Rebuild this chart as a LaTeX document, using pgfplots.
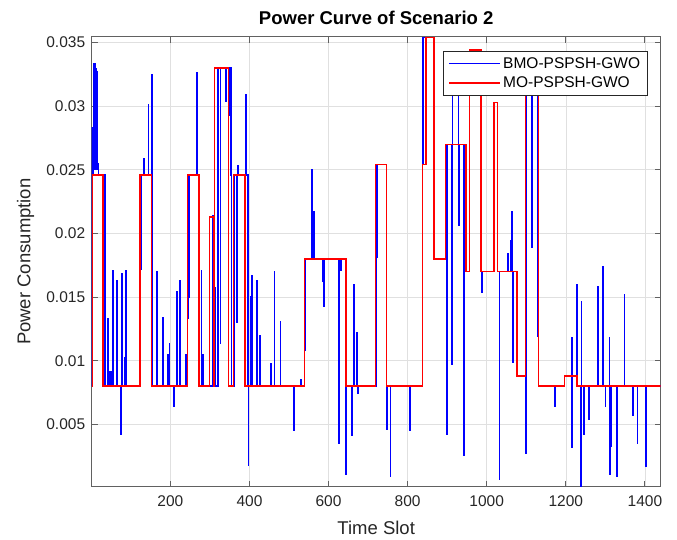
\documentclass[border=0pt]{standalone}
\usepackage{pgfplots}
\pgfplotsset{compat=1.18}
\usepackage{fontspec}
\setmainfont{Liberation Sans}
\definecolor{gridc}{rgb}{0.88,0.88,0.88}
\definecolor{axc}{rgb}{0.38,0.38,0.38}
\definecolor{txt}{rgb}{0.15,0.15,0.15}
\pgfplotstableread{
x y
1 0.008
2 0.0283
3 0.0246
6 0.0333
7 0.0250
8 0.0333
9 0.0255
10 0.0332
11 0.0250
12 0.0329
13 0.0255
14 0.0327
15 0.0252
16 0.0255
17 0.0250
18 0.0246
35 0.008
42 0.0133
43 0.008
47 0.0091
48 0.008
50 0.0091
51 0.008
54 0.0171
55 0.008
65 0.0163
66 0.008
74 0.0042
75 0.008
76 0.0156
77 0.008
78 0.0168
79 0.008
84 0.0102
85 0.008
87 0.0171
88 0.008
125 0.0172
126 0.0246
133 0.0259
134 0.0246
144 0.0301
145 0.0246
154 0.0325
155 0.008
165 0.0170
166 0.008
167 0.0170
168 0.008
181 0.0134
182 0.008
194 0.0105
195 0.008
197 0.0113
198 0.008
209 0.0064
210 0.008
217 0.0154
218 0.008
224 0.0163
225 0.008
239 0.0105
240 0.008
243 0.0133
245 0.0150
247 0.0246
266 0.0326
267 0.0246
272 0.008
278 0.0171
279 0.008
282 0.0105
283 0.008
307 0.0214
308 0.008
310 0.0159
311 0.008
313 0.0157
314 0.008
320 0.033
326 0.0114
327 0.033
341 0.0304
342 0.033
349 0.0293
350 0.033
352 0.0246
353 0.033
355 0.008
361 0.0246
367 0.0130
368 0.0246
371 0.0253
372 0.0246
391 0.0309
392 0.0269
393 0.0246
396 0.008
397 0.0018
398 0.008
402 0.0150
403 0.008
406 0.0167
407 0.008
418 0.0163
419 0.008
427 0.0120
428 0.008
454 0.0098
455 0.008
463 0.0170
464 0.008
478 0.0131
479 0.008
513 0.0045
514 0.008
530 0.0085
531 0.008
539 0.0108
541 0.018
557 0.0250
558 0.018
562 0.0217
564 0.018
584 0.0162
585 0.018
587 0.0143
588 0.018
625 0.0035
626 0.018
631 0.0171
632 0.018
644 0.0011
645 0.008
659 0.0041
660 0.008
663 0.0160
664 0.008
671 0.0122
672 0.008
674 0.0074
675 0.008
721 0.0254
723 0.0181
724 0.0254
747 0.0046
748 0.008
756 0.0009
757 0.008
805 0.0045
806 0.008
837 0.0254
839 0.0354
867 0.018
896 0.027
900 0.0042
901 0.027
911 0.0097
912 0.027
913 0.033
914 0.027
928 0.033
929 0.027
930 0.0206
931 0.027
942 0.0026
943 0.027
944 0.0218
945 0.027
948 0.017
957 0.0344
986 0.017
987 0.0154
988 0.017
1018 0.0303
1028 0.017
1032 0.0007
1033 0.017
1053 0.0184
1054 0.017
1060 0.0194
1061 0.017
1062 0.0194
1063 0.017
1064 0.0217
1065 0.017
1066 0.0099
1067 0.017
1077 0.0088
1098 0.0027
1099 0.033
1113 0.0189
1114 0.033
1129 0.0119
1130 0.033
1131 0.008
1173 0.0064
1174 0.008
1197 0.0088
1215 0.0118
1216 0.0032
1217 0.0088
1228 0.0160
1229 0.008
1237 0.0001
1238 0.008
1239 0.0146
1240 0.008
1245 0.0042
1246 0.008
1259 0.0054
1260 0.008
1281 0.0158
1282 0.008
1293 0.0174
1294 0.008
1300 0.0064
1301 0.008
1310 0.0118
1311 0.008
1312 0.0011
1313 0.008
1314 0.0033
1315 0.008
1329 0.0009
1330 0.008
1348 0.0152
1349 0.008
1369 0.0057
1370 0.008
1381 0.0035
1382 0.008
1402 0.0017
1403 0.008
1440 0.008
}\bluedata
\pgfplotstableread{
x y
1 0.008
3 0.0246
30 0.008
123 0.0246
152 0.008
243 0.0246
272 0.008
299 0.0213
309 0.008
312 0.033
347 0.008
360 0.0246
389 0.008
539 0.018
644 0.008
718 0.0254
747 0.008
837 0.0254
846 0.0354
867 0.018
896 0.027
948 0.017
957 0.0344
986 0.017
1018 0.0303
1028 0.017
1077 0.0088
1098 0.033
1131 0.008
1197 0.0088
1228 0.008
1440 0.008
}\reddata
\begin{document}
\begin{tikzpicture}[x=1pt,y=1pt]
\useasboundingbox (0,0) rectangle (677,539);
\begin{axis}[
  at={(91.7pt,52.3pt)}, anchor=south west,
  scale only axis, width=569pt, height=450pt,
  xmin=1, xmax=1440, ymin=0.0001, ymax=0.03545,
  xtick={200,400,600,800,1000,1200,1400},
  ytick={0.005,0.01,0.015,0.02,0.025,0.03,0.035},
  yticklabels={0.005,0.01,0.015,0.02,0.025,0.03,0.035},
  scaled y ticks=false, scaled x ticks=false,
  /pgf/number format/assume math mode=true,
  /pgf/number format/1000 sep={},
  tick align=inside, tick pos=both,
  major tick length=6pt,
  grid=major,
  major grid style={gridc, line width=0.6pt},
  axis line style={axc, line width=0.8pt},
  every tick/.style={axc, line width=0.8pt},
  tick label style={font=\fontsize{15.5}{18}\selectfont, color=txt},
  xticklabel style={yshift=-5pt},
  yticklabel style={xshift=-3pt},
  xlabel={Time Slot},
  ylabel={Power Consumption},
  every axis x label/.style={at={([yshift=-41pt]axis description cs:0.5,0)}, anchor=center, font=\fontsize{18.5}{21}\selectfont, color=txt},
  every axis y label/.style={at={([xshift=-66pt]axis description cs:0,0.5)}, anchor=center, rotate=90, font=\fontsize{18.5}{21}\selectfont, color=txt},
  title={Power Curve of Scenario 2},
  every axis title/.style={at={([yshift=18.5pt]axis description cs:0.5,1)}, anchor=center, font=\bfseries\fontsize{18.5}{21}\selectfont, color=black},
  legend style={at={(axis description cs:0.9765,0.968)}, anchor=north east,
    fill=white, draw=txt, font=\fontsize{15.5}{18}\selectfont,
    inner xsep=5pt, inner ysep=4pt, row sep=3pt},
  legend cell align=left,
  legend image post style={xscale=3, line width=1.6pt},
]
\addplot[const plot mark left, draw=blue, line width=1.4pt] table[x=x,y=y] {\bluedata};
\addlegendentry{BMO-PSPSH-GWO}
\addplot[const plot mark left, draw=red, line width=1.4pt] table[x=x,y=y] {\reddata};
\addlegendentry{MO-PSPSH-GWO}
\end{axis}
\end{tikzpicture}
\end{document}
